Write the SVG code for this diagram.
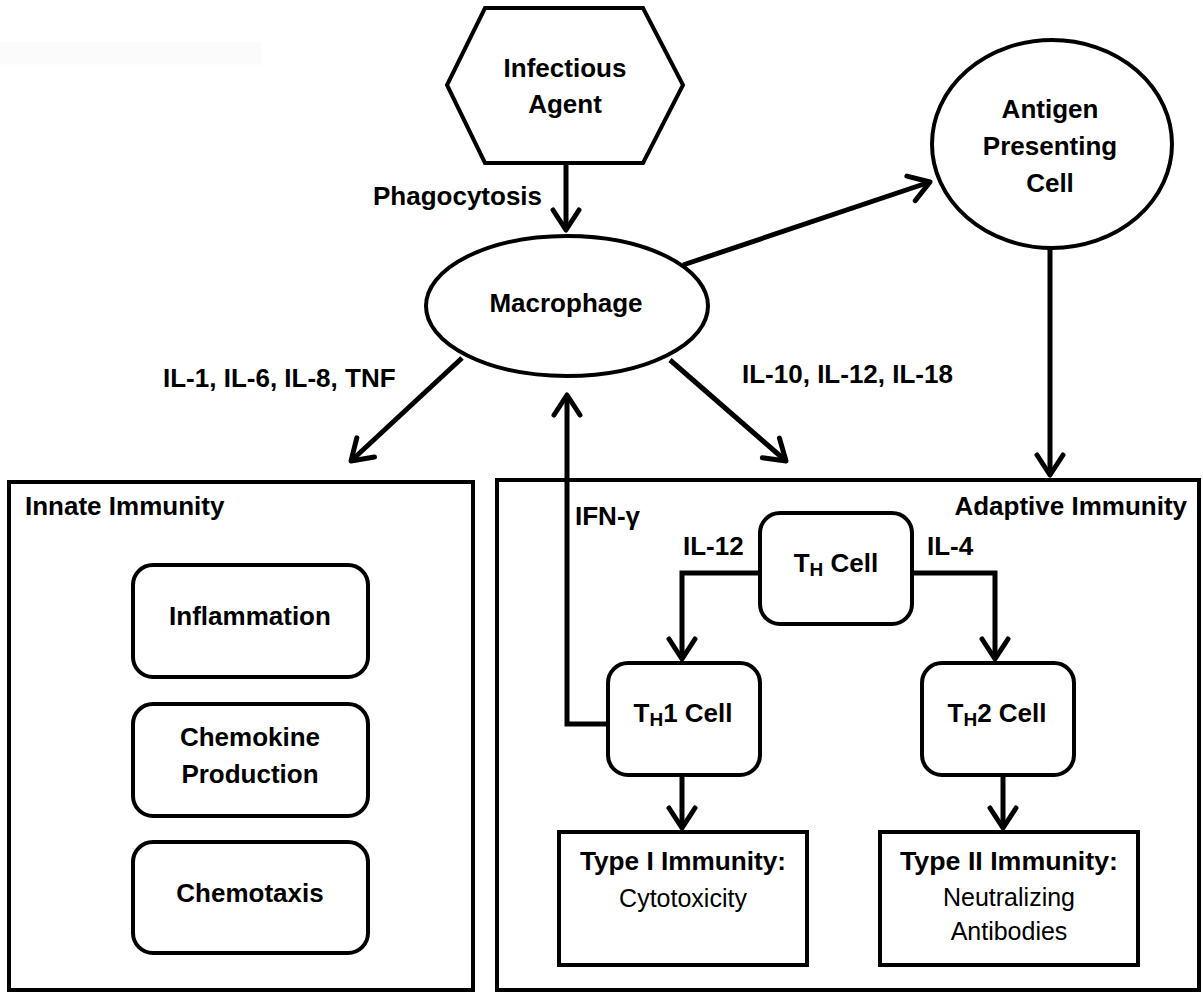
<svg xmlns="http://www.w3.org/2000/svg" width="1203" height="993" viewBox="0 0 1203 993">
<defs>
<style>
.t{font-family:"Liberation Sans",Arial,sans-serif;font-weight:bold;font-size:26px;fill:#000}
.r{font-family:"Liberation Sans",Arial,sans-serif;font-weight:normal;font-size:25px;fill:#000}
.m{text-anchor:middle}
.sh{fill:#fff;stroke:#000;stroke-width:4}
.c{fill:none;stroke:#000;stroke-width:5;stroke-linejoin:miter}
.sub{font-size:19px}
</style>
<marker id="ah" viewBox="-26 -17 30 34" markerWidth="30" markerHeight="34" refX="0" refY="0" markerUnits="userSpaceOnUse" orient="auto">
<path d="M-20,-13 L0,0 L-20,13" fill="none" stroke="#000" stroke-width="5" stroke-linejoin="round" stroke-linecap="round"/>
</marker>
</defs>
<rect width="1203" height="993" fill="#fff"/>
<rect x="0" y="42" width="262" height="23" fill="#fbfbfb"/>

<g id="innate">
<rect class="sh" x="9" y="482" width="464" height="508"/>
<text class="t" x="25" y="515">Innate Immunity</text>
</g>
<g id="adaptive">
<rect class="sh" x="497" y="480" width="702" height="510"/>
<text class="t" x="1187" y="515" text-anchor="end">Adaptive Immunity</text>
</g>

<g id="infectious-agent">
<polygon class="sh" points="485,8 643,8 683,85 643,163 485,163 447,85"/>
<text class="t m" x="565" y="77">Infectious</text>
<text class="t m" x="565" y="113">Agent</text>
</g>
<g id="apc">
<ellipse class="sh" cx="1052" cy="144" rx="120" ry="104"/>
<text class="t m" x="1050" y="118">Antigen</text>
<text class="t m" x="1050" y="155">Presenting</text>
<text class="t m" x="1050" y="192">Cell</text>
</g>
<g id="macrophage">
<ellipse class="sh" cx="567" cy="306" rx="141" ry="70"/>
<text class="t m" x="566" y="312">Macrophage</text>
</g>

<g id="inflammation">
<rect class="sh" x="133" y="565" width="235" height="112" rx="20"/>
<text class="t m" x="250" y="625">Inflammation</text>
</g>
<g id="chemokine">
<rect class="sh" x="133" y="704" width="235" height="112" rx="20"/>
<text class="t m" x="250" y="746">Chemokine</text>
<text class="t m" x="250" y="783">Production</text>
</g>
<g id="chemotaxis">
<rect class="sh" x="133" y="842" width="235" height="111" rx="20"/>
<text class="t m" x="250" y="902">Chemotaxis</text>
</g>

<g id="th-cell">
<rect class="sh" x="760" y="513" width="152" height="111" rx="20"/>
<text class="t m" x="836" y="572">T<tspan class="sub" dy="4">H</tspan><tspan dy="-4"> Cell</tspan></text>
</g>
<g id="th1-cell">
<rect class="sh" x="608" y="663" width="152" height="112" rx="20"/>
<text class="t m" x="683" y="722">T<tspan class="sub" dy="4">H</tspan><tspan dy="-4">1 Cell</tspan></text>
</g>
<g id="th2-cell">
<rect class="sh" x="922" y="663" width="152" height="112" rx="20"/>
<text class="t m" x="997" y="722">T<tspan class="sub" dy="4">H</tspan><tspan dy="-4">2 Cell</tspan></text>
</g>

<g id="type1">
<rect class="sh" x="559" y="832" width="248" height="133"/>
<text class="t m" x="683" y="870" textLength="206" lengthAdjust="spacingAndGlyphs">Type I Immunity:</text>
<text class="r m" x="683" y="907">Cytotoxicity</text>
</g>
<g id="type2">
<rect class="sh" x="880" y="832" width="258" height="133"/>
<text class="t m" x="1009" y="870" textLength="218" lengthAdjust="spacingAndGlyphs">Type II Immunity:</text>
<text class="r m" x="1009" y="906">Neutralizing</text>
<text class="r m" x="1009" y="940">Antibodies</text>
</g>

<g id="connectors">
<line class="c" x1="566" y1="165" x2="566" y2="230" marker-end="url(#ah)"/>
<line class="c" x1="683" y1="265" x2="930" y2="182" marker-end="url(#ah)"/>
<line class="c" x1="462" y1="358" x2="351" y2="461" marker-end="url(#ah)"/>
<line class="c" x1="670" y1="360" x2="786" y2="461" marker-end="url(#ah)"/>
<line class="c" x1="1050" y1="248" x2="1050" y2="475" marker-end="url(#ah)"/>
<path class="c" d="M608,724 H567 V395" marker-end="url(#ah)"/>
<path class="c" d="M760,573 H682 V659" marker-end="url(#ah)"/>
<path class="c" d="M912,573 H995 V659" marker-end="url(#ah)"/>
<line class="c" x1="682" y1="775" x2="682" y2="828" marker-end="url(#ah)"/>
<line class="c" x1="1003" y1="775" x2="1003" y2="828" marker-end="url(#ah)"/>
</g>

<g id="labels">
<text class="t" x="373" y="205">Phagocytosis</text>
<text class="t" x="163" y="387">IL-1, IL-6, IL-8, TNF</text>
<text class="t" x="742" y="383">IL-10, IL-12, IL-18</text>
<text class="t" x="575" y="525">IFN-γ</text>
<text class="t" x="683" y="555">IL-12</text>
<text class="t" x="927" y="555">IL-4</text>
</g>
</svg>
